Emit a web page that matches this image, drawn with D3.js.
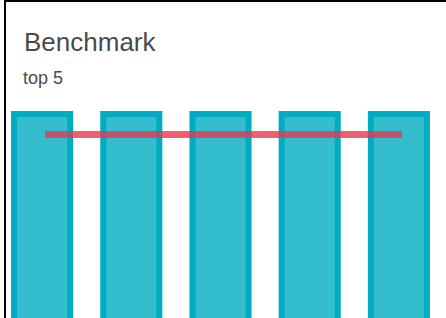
<!DOCTYPE html>
<html>
<head>
<meta charset="utf-8">
<script src="https://cdn.jsdelivr.net/npm/d3@7"></script>
<style>
  html, body { margin: 0; padding: 0; background: #fff; overflow: hidden; }
  #card { position: absolute; left: 4px; top: 0; width: 600px; height: 500px; border: 2px solid #000; box-sizing: border-box; }
  svg { position: absolute; left: 0; top: 0; }
</style>
</head>
<body>
<div id="card"></div>
<svg id="chart" width="446" height="318"></svg>
<script>
const title = "Benchmark";
const subtitle = "top 5";
const categories = ["1", "2", "3", "4", "5"];
const values = [100, 100, 100, 100, 100];
const benchmark = [90, 90, 90, 90, 90];

const svg = d3.select("#chart");

svg.append("text")
  .attr("x", 24).attr("y", 51)
  .attr("font-family", "Liberation Sans, Arial, sans-serif")
  .attr("font-size", 26)
  .attr("fill", "#4a4a4a")
  .text(title);

svg.append("text")
  .attr("x", 23).attr("y", 84)
  .attr("font-family", "Liberation Sans, Arial, sans-serif")
  .attr("font-size", 18)
  .attr("fill", "#4a4a4a")
  .text(subtitle);

const x = d3.scaleBand().domain(categories).range([-2.5, 443.5]).paddingInner(0.304).paddingOuter(0.152);
const y = d3.scaleLinear().domain([0, 100]).range([346, 111]);
const xLine = d3.scalePoint().domain(categories).range([45, 402]);

const sw = 6;
svg.append("g").selectAll("rect")
  .data(values)
  .join("rect")
  .attr("x", (d, i) => x(categories[i]) + sw / 2)
  .attr("y", d => y(d) + sw / 2)
  .attr("width", x.bandwidth() - sw)
  .attr("height", d => y(0) - y(d))
  .attr("fill", "#33bdcd")
  .attr("stroke", "#00acc1")
  .attr("stroke-width", sw);

const line = d3.line()
  .x((d, i) => xLine(categories[i]))
  .y(d => y(d));

svg.append("path")
  .datum(benchmark)
  .attr("d", line)
  .attr("fill", "none")
  .attr("stroke", "rgb(229,57,80)")
  .attr("stroke-opacity", 0.8)
  .attr("stroke-width", 7);
</script>
</body>
</html>
